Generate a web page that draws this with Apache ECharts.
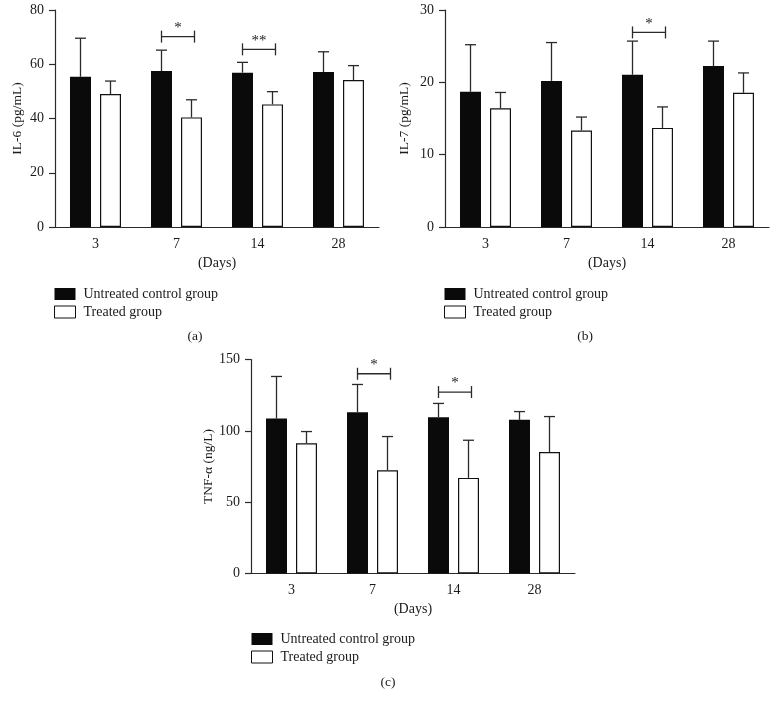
<!DOCTYPE html>
<html>
<head>
<meta charset="utf-8">
<script src="https://cdn.jsdelivr.net/npm/echarts@6/dist/echarts.min.js"></script>
<style>html,body{margin:0;padding:0;background:#fff}#c{width:777px;height:708px}</style>
</head>
<body>
<div id="c"></div>
<script>
// ---- data ----
const days = ['3', '7', '14', '28'];
const il6Control = [55.4, 57.5, 56.9, 57.1];
const il6ControlSD = [14.2, 7.7, 3.8, 7.5];
const il6Treated = [49.0, 40.4, 45.2, 54.2];
const il6TreatedSD = [4.8, 6.5, 4.7, 5.3];
const il7Control = [18.7, 20.2, 21.05, 22.25];
const il7ControlSD = [6.5, 5.3, 4.65, 3.45];
const il7Treated = [16.4, 13.35, 13.7, 18.55];
const il7TreatedSD = [2.2, 1.85, 2.9, 2.75];
const tnfControl = [108.6, 113.1, 109.6, 107.7];
const tnfControlSD = [29.5, 19.4, 9.6, 5.8];
const tnfTreated = [91.3, 72.4, 67.0, 85.2];
const tnfTreatedSD = [8.2, 23.6, 26.4, 24.8];
// significance brackets: [day index, bracket value, label]
const sigA = [[1, 70.2, '*'], [2, 65.5, '**']];
const sigB = [[2, 26.9, '*']];
const sigC = [[1, 140.0, '*'], [2, 127.2, '*']];
const yTicksA = {min: 0, max: 80, interval: 20};
const yTicksB = {min: 0, max: 30, interval: 10};
const yTicksC = {min: 0, max: 150, interval: 50};
const nameControl = 'Untreated control group';
const nameTreated = 'Treated group';

// ---- styles ----
const FONT = 'Liberation Serif';
const TXT = '#1a1a1a';
const AX = '#2a2a2a';
const BAR_W = 21, BAR_GAP = 9;
const OFF = (BAR_W + BAR_GAP) / 2;

const chart = echarts.init(document.getElementById('c'), null, {renderer: 'canvas'});

function errData(means, sds, side) {
  return means.map((m, i) => [i, m, m + sds[i], side]);
}

function errRender(params, api) {
  const cat = api.value(0);
  const base = api.coord([cat, api.value(1)]);
  const top = api.coord([cat, api.value(2)]);
  const x = base[0] + api.value(3) * OFF;
  const st = {stroke: AX, lineWidth: 1.3};
  return {type: 'group', children: [
    {type: 'line', shape: {x1: x, y1: base[1], x2: x, y2: top[1]}, style: st},
    {type: 'line', shape: {x1: x - 5.5, y1: top[1], x2: x + 5.5, y2: top[1]}, style: st}
  ]};
}

function sigRender(sig) {
  return function (params, api) {
    const cat = api.value(0);
    const p = api.coord([cat, api.value(1)]);
    const x1 = p[0] - OFF, x2 = p[0] + OFF + 3, y = p[1];
    const st = {stroke: AX, lineWidth: 1.3};
    return {type: 'group', children: [
      {type: 'line', shape: {x1: x1, y1: y, x2: x2, y2: y}, style: st},
      {type: 'line', shape: {x1: x1, y1: y - 6, x2: x1, y2: y + 6}, style: st},
      {type: 'line', shape: {x1: x2, y1: y - 6, x2: x2, y2: y + 6}, style: st},
      {type: 'text', style: {text: sig[params.dataIndex][2], x: (x1 + x2) / 2, y: y - 1,
        align: 'center', verticalAlign: 'bottom', fontFamily: FONT, fontSize: 15, fill: TXT}}
    ]};
  };
}

function xAxis(g) {
  return {
    type: 'category', gridIndex: g, data: days,
    axisLine: {lineStyle: {color: AX, width: 1.2}},
    axisTick: {alignWithLabel: true, length: 6, lineStyle: {color: AX, width: 1.2}},
    axisLabel: {fontFamily: FONT, fontSize: 14, color: TXT, margin: 10},
    name: '(Days)', nameLocation: 'middle', nameGap: 29,
    nameTextStyle: {fontFamily: FONT, fontSize: 14, color: TXT}
  };
}
function yAxis(g, ticks, name, gap) {
  return {
    type: 'value', gridIndex: g, min: ticks.min, max: ticks.max, interval: ticks.interval,
    axisLine: {show: true, lineStyle: {color: AX, width: 1.2}},
    axisTick: {show: true, length: 6, lineStyle: {color: AX, width: 1.2}},
    splitLine: {show: false},
    axisLabel: {fontFamily: FONT, fontSize: 14, color: TXT, margin: 11},
    name: name, nameLocation: 'middle', nameGap: gap,
    nameTextStyle: {fontFamily: FONT, fontSize: 13.5, color: TXT}
  };
}
function panelSeries(g, ctrl, ctrlSD, trt, trtSD, sig) {
  return [
    {type: 'bar', name: nameControl, xAxisIndex: g, yAxisIndex: g, data: ctrl,
      barWidth: BAR_W, barGap: (BAR_GAP / BAR_W * 100).toFixed(1) + '%',
      itemStyle: {color: '#0a0a0a'}, silent: true},
    {type: 'bar', name: nameTreated, xAxisIndex: g, yAxisIndex: g, data: trt,
      barWidth: BAR_W,
      itemStyle: {color: '#ffffff', borderColor: '#111', borderWidth: 1.2}, silent: true},
    {type: 'custom', xAxisIndex: g, yAxisIndex: g, renderItem: errRender, z: 5, silent: true,
      data: errData(ctrl, ctrlSD, -1).concat(errData(trt, trtSD, 1))},
    {type: 'custom', xAxisIndex: g, yAxisIndex: g, renderItem: sigRender(sig), z: 5, silent: true,
      data: sig.map(s => [s[0], s[1]])}
  ];
}
function legend(left, top) {
  return {
    left: left, top: top, orient: 'vertical', itemWidth: 21, itemHeight: 12, itemGap: 4,
    padding: 0, icon: 'rect', selectedMode: false,
    textStyle: {fontFamily: FONT, fontSize: 14, color: TXT, padding: [0, 0, 0, 3]},
    data: [
      {name: nameControl, itemStyle: {color: '#0a0a0a'}},
      {name: nameTreated, itemStyle: {color: '#ffffff', borderColor: '#111', borderWidth: 1}}
    ]
  };
}

const option = {
  animation: false,
  backgroundColor: '#fff',
  grid: [
    {left: 55, top: 10, width: 324, height: 217},
    {left: 445, top: 10, width: 324, height: 217},
    {left: 251, top: 359.5, width: 324, height: 214}
  ],
  xAxis: [xAxis(0), xAxis(1), xAxis(2)],
  yAxis: [
    yAxis(0, yTicksA, 'IL-6 (pg/mL)', 31),
    yAxis(1, yTicksB, 'IL-7 (pg/mL)', 34),
    yAxis(2, yTicksC, 'TNF-α (ng/L)', 35)
  ],
  legend: [legend(54, 287), legend(444, 287), legend(251, 632)],
  series: [].concat(
    panelSeries(0, il6Control, il6ControlSD, il6Treated, il6TreatedSD, sigA),
    panelSeries(1, il7Control, il7ControlSD, il7Treated, il7TreatedSD, sigB),
    panelSeries(2, tnfControl, tnfControlSD, tnfTreated, tnfTreatedSD, sigC)
  ),
  graphic: [
    {type: 'text', x: 195, y: 336, style: {text: '(a)', align: 'center', verticalAlign: 'middle', fontFamily: FONT, fontSize: 13.5, fill: TXT}},
    {type: 'text', x: 585, y: 336, style: {text: '(b)', align: 'center', verticalAlign: 'middle', fontFamily: FONT, fontSize: 13.5, fill: TXT}},
    {type: 'text', x: 388, y: 682, style: {text: '(c)', align: 'center', verticalAlign: 'middle', fontFamily: FONT, fontSize: 13.5, fill: TXT}}
  ]
};
chart.setOption(option);
</script>
</body>
</html>
